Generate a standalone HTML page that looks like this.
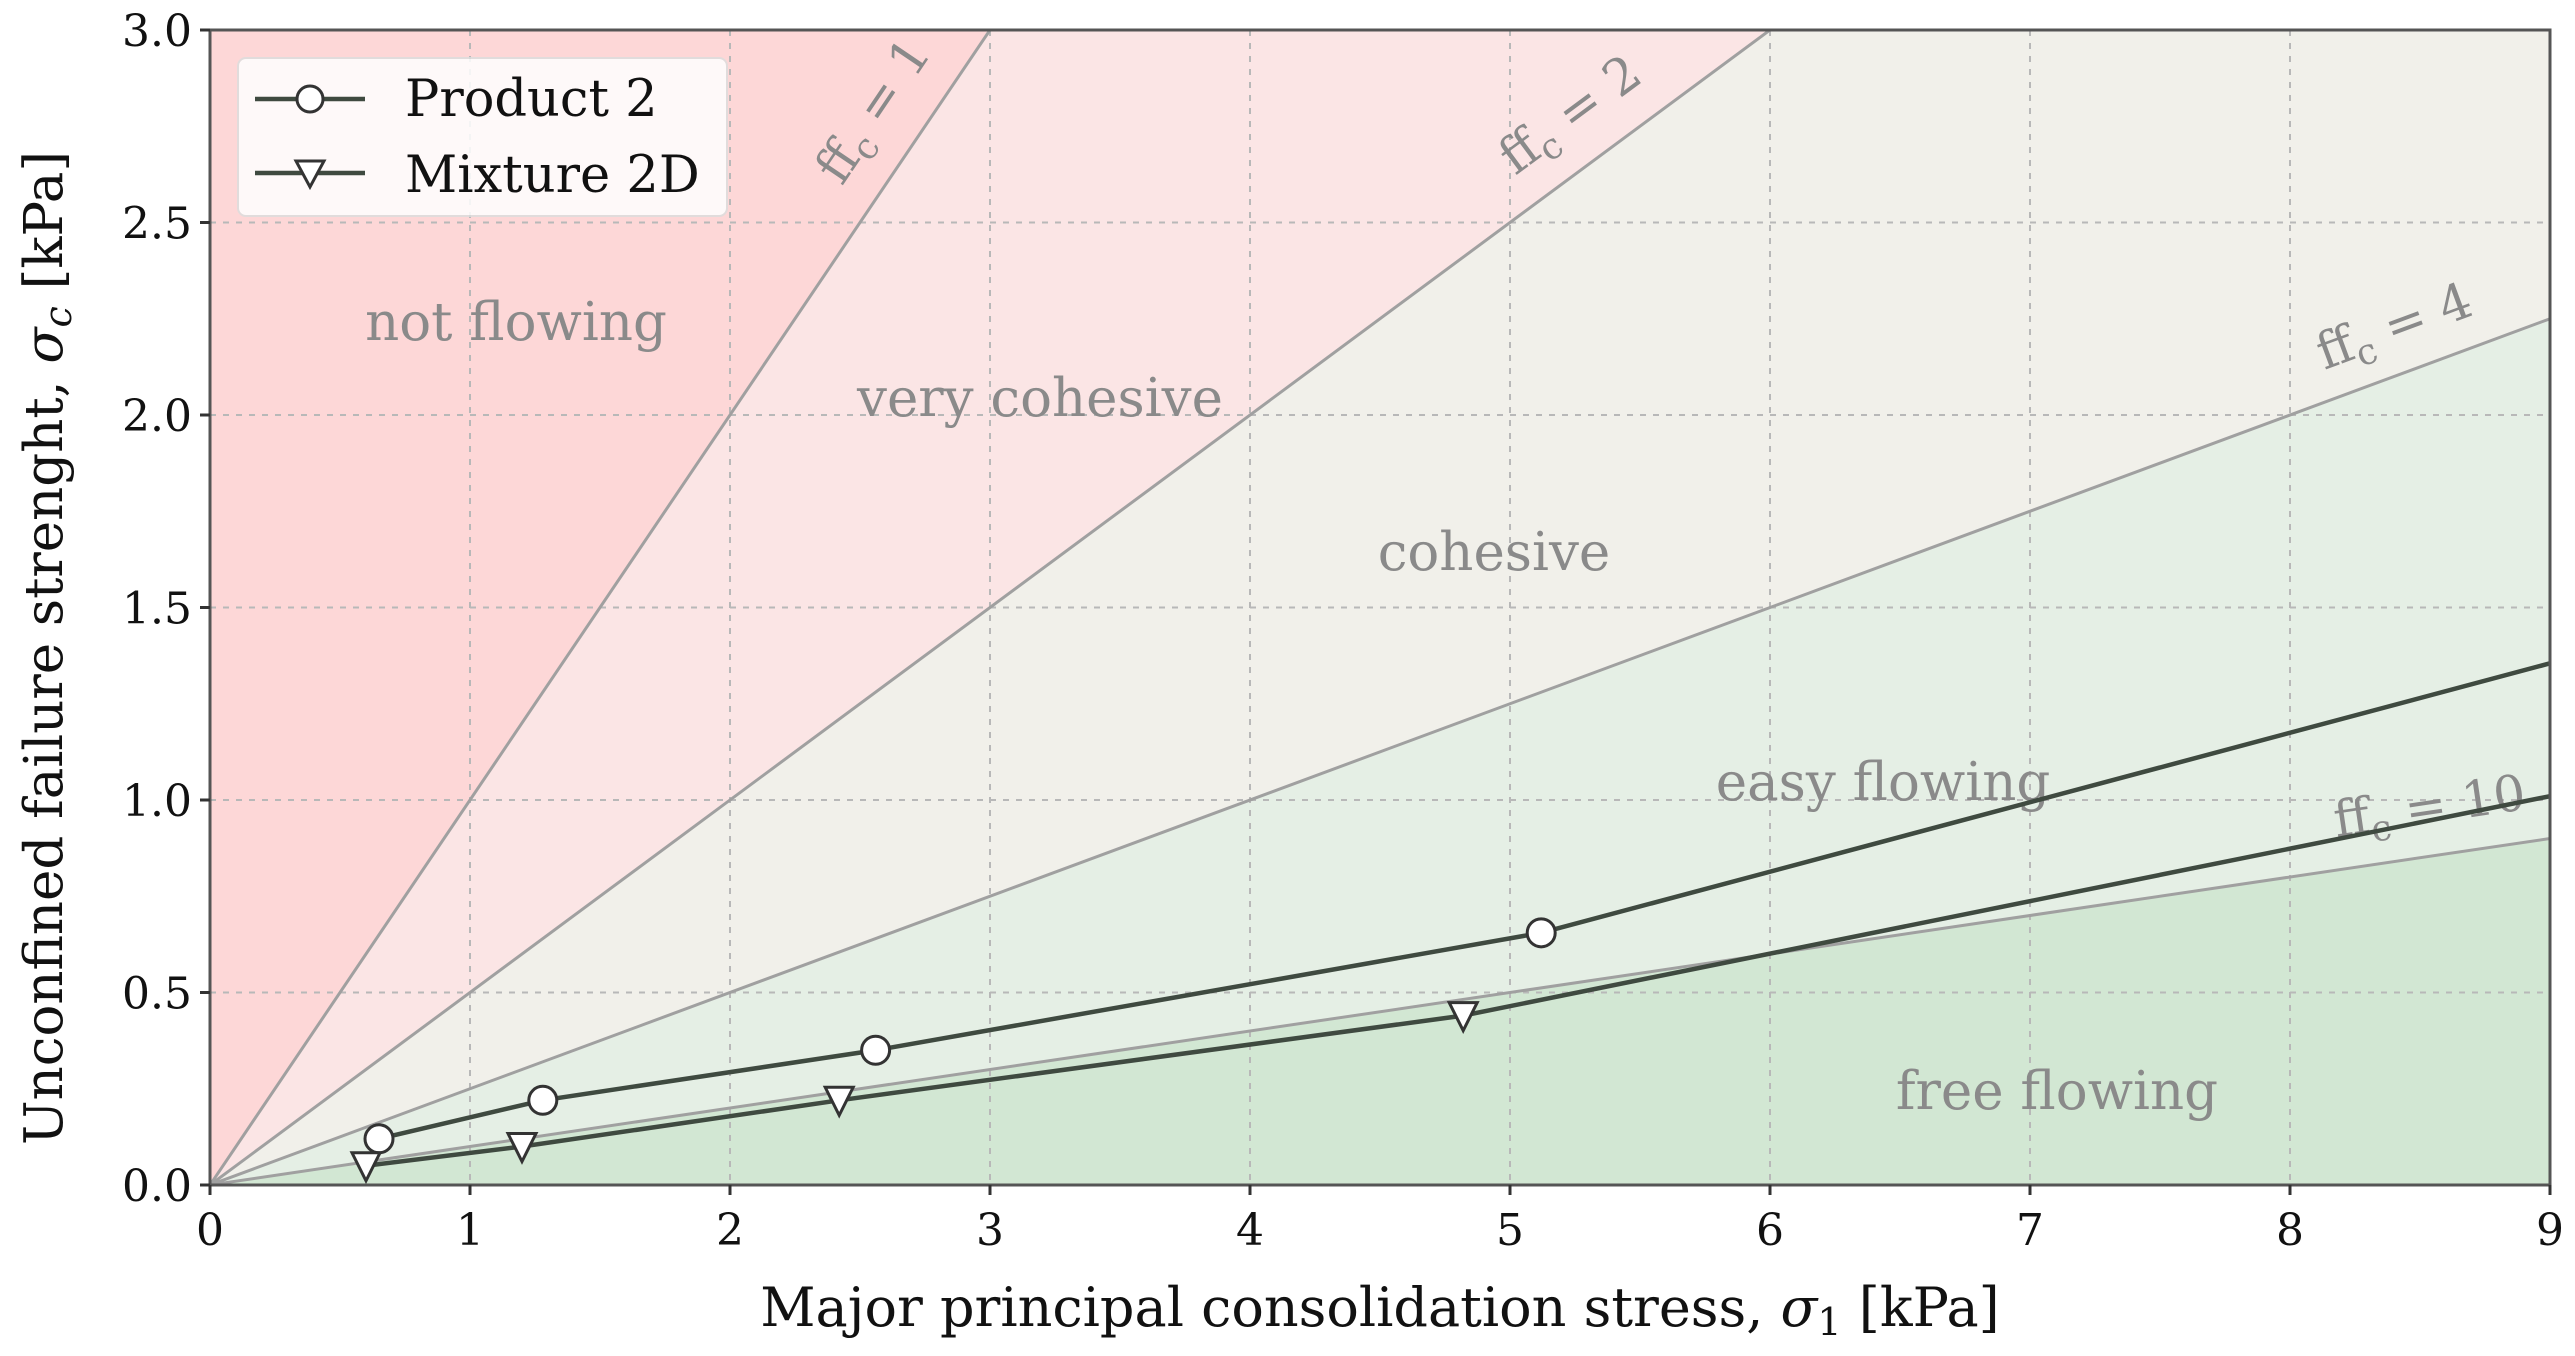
<!DOCTYPE html>
<html><head><meta charset="utf-8"><style>
html,body{margin:0;padding:0;background:#fff}
svg{display:block;font-family:"DejaVu Serif","Liberation Serif",serif}
</style></head><body>
<svg id="chart" width="2575" height="1356"></svg>
<script>
const xTicks=[0,1,2,3,4,5,6,7,8,9];
const yTicks=[0.0,0.5,1.0,1.5,2.0,2.5,3.0];
const ffcValues=[1,2,4,10];
const product2X=[0.65,1.28,2.56,5.12,9];
const product2Y=[0.12,0.22,0.35,0.655,1.355];
const product2Marked=[1,1,1,1,0];
const mixtureX=[0.6,1.2,2.42,4.82,9];
const mixtureY=[0.05,0.10,0.22,0.44,1.01];
const mixtureMarked=[1,1,1,1,0];

const L=210,R=2550,T=30,B=1185,XMAX=9,YMAX=3;
const sx=v=>L+(v/XMAX)*(R-L);
const sy=v=>B-(v/YMAX)*(B-T);
const NS="http://www.w3.org/2000/svg";
const svg=document.getElementById('chart');
function mk(tag,attrs,parent){const e=document.createElementNS(NS,tag);for(const k in attrs)e.setAttribute(k,attrs[k]);(parent||svg).appendChild(e);return e;}

const defs=mk('defs',{});
const cp=mk('clipPath',{id:'plotclip'},defs);
mk('rect',{x:L,y:T,width:R-L,height:B-T},cp);
const plot=mk('g',{'clip-path':'url(#plotclip)'});



const regionColors=['#fdd7d7','#fbe5e5','#f1f0ea','#e5efe5','#d2e7d3'];
const regionNames=['region-not-flowing','region-very-cohesive','region-cohesive','region-easy-flowing','region-free-flowing'];
const bounds=[Infinity].concat(ffcValues);
for(let i=0;i<5;i++){
  const upper=bounds[i];
  const lower=i<4?ffcValues[i]:null;
  let poly=[[sx(0),sy(0)]];
  if(upper===Infinity){poly.push([sx(0),sy(YMAX)]);}
  else{const xe=Math.min(XMAX,YMAX*upper);poly.push([sx(xe),sy(xe/upper)]);}
  if(lower){const xe=Math.min(XMAX,YMAX*lower);
    if(xe<XMAX){poly.push([sx(xe),sy(YMAX)]);}
    else{if(upper===Infinity||YMAX*upper<XMAX)poly.push([sx(XMAX),sy(YMAX)]);poly.push([sx(XMAX),sy(XMAX/lower)]);}
  } else {poly.push([sx(XMAX),sy(0)]);}
  const p=mk('polygon',{points:poly.map(q=>q.join(',')).join(' '),fill:regionColors[i]},plot);
  
  
}
xTicks.forEach(t=>{if(t===0||t===XMAX)return;const g=mk('line',{x1:sx(t),x2:sx(t),y1:T,y2:B,stroke:'#b8b8b8','stroke-width':2,'stroke-dasharray':'6,7'},plot);

});
yTicks.forEach(t=>{if(t===0||t===YMAX)return;const g=mk('line',{x1:L,x2:R,y1:sy(t),y2:sy(t),stroke:'#b8b8b8','stroke-width':2,'stroke-dasharray':'6,7'},plot);

});
ffcValues.forEach(f=>{const xe=XMAX;const l=mk('line',{x1:sx(0),y1:sy(0),x2:sx(xe),y2:sy(xe/f),stroke:'#a0a0a0','stroke-width':3},plot);

});
const regionLabels=[['not flowing',516,323],['very cohesive',1040,399],['cohesive',1494,553],['easy flowing',1883,783],['free flowing',2057,1092]];
regionLabels.forEach(r=>{const t=mk('text',{x:r[1],y:r[2]+17,'text-anchor':'middle','font-size':53,fill:'#8a8a8a'},plot);t.textContent=r[0];

});
const ffcLabelPos=[[887,120],[1580,128],[2400,342],[2432,823]];
ffcValues.forEach((f,i)=>{const ang=-Math.atan(((B-T)/YMAX)/f/((R-L)/XMAX))*180/Math.PI;
const t=mk('text',{x:ffcLabelPos[i][0],y:ffcLabelPos[i][1],'text-anchor':'middle','font-size':50,fill:'#8a8a8a',transform:`rotate(${ang} ${ffcLabelPos[i][0]} ${ffcLabelPos[i][1]})`},plot);
t.innerHTML='ff<tspan dy="10" font-size="36">c</tspan><tspan dy="-10"> = '+f+'</tspan>';

});
function series(xs,ys,marked,kind,name){
  const g=mk('g',{},plot);
  
  
  mk('polyline',{points:xs.map((x,i)=>sx(x)+','+sy(ys[i])).join(' '),fill:'none',stroke:'#3f4a40','stroke-width':4.5},g);
  xs.forEach((x,i)=>{if(!marked[i])return;const cx=sx(x),cy=sy(ys[i]);let m;
    if(kind==='o')m=mk('circle',{cx:cx,cy:cy,r:14,fill:'#fff',stroke:'#333','stroke-width':3},g);
    else m=mk('polygon',{points:`${cx-14},${cy-13} ${cx+14},${cy-13} ${cx},${cy+15}`,fill:'#fff',stroke:'#333','stroke-width':3},g);
    
    });
}
series(product2X,product2Y,product2Marked,'o','product-2-series');
series(mixtureX,mixtureY,mixtureMarked,'v','mixture-2d-series');
const fr=mk('rect',{x:L,y:T,width:R-L,height:B-T,fill:'none',stroke:'#555','stroke-width':3});


xTicks.forEach(t=>{mk('line',{x1:sx(t),x2:sx(t),y1:B,y2:B+10,stroke:'#333','stroke-width':3});
const tx=mk('text',{x:sx(t),y:B+60,'text-anchor':'middle','font-size':44,fill:'#111'});tx.textContent=t;

});
yTicks.forEach(t=>{mk('line',{x1:L-10,x2:L,y1:sy(t),y2:sy(t),stroke:'#333','stroke-width':3});
const tx=mk('text',{x:L-18,y:sy(t)+16,'text-anchor':'end','font-size':44,fill:'#111'});tx.textContent=t.toFixed(1);

});
const xt=mk('text',{x:1380,y:1326,'text-anchor':'middle','font-size':54,fill:'#111'});
xt.innerHTML='Major principal consolidation stress, <tspan font-style="italic">σ</tspan><tspan dy="9" font-size="38">1</tspan><tspan dy="-9"> [kPa]</tspan>';


const yt=mk('text',{x:0,y:0,'text-anchor':'middle','font-size':53,fill:'#111',transform:'translate(62 648) rotate(-90)'});
yt.innerHTML='Unconfined failure strenght, <tspan font-style="italic">σ</tspan><tspan dy="9" font-size="38" font-style="italic">c</tspan><tspan dy="-9"> [kPa]</tspan>';


const lg=mk('g',{});


mk('rect',{x:238,y:58,width:489,height:158,rx:8,fill:'#fff',opacity:0.85,stroke:'#ddd','stroke-width':2},lg);
const e1=mk('g',{},lg);


mk('line',{x1:255,x2:365,y1:99,y2:99,stroke:'#3f4a40','stroke-width':4.5},e1);
mk('circle',{cx:310,cy:99,r:13,fill:'#fff',stroke:'#333','stroke-width':3},e1);
const t1=mk('text',{x:405,y:116,'font-size':51,fill:'#111'},e1);t1.textContent='Product 2';
const e2=mk('g',{},lg);


mk('line',{x1:255,x2:365,y1:173,y2:173,stroke:'#3f4a40','stroke-width':4.5},e2);
mk('polygon',{points:'296,161 324,161 310,187',fill:'#fff',stroke:'#333','stroke-width':3},e2);
const t2=mk('text',{x:405,y:192,'font-size':51,fill:'#111'},e2);t2.textContent='Mixture 2D';
</script>
</body></html>
